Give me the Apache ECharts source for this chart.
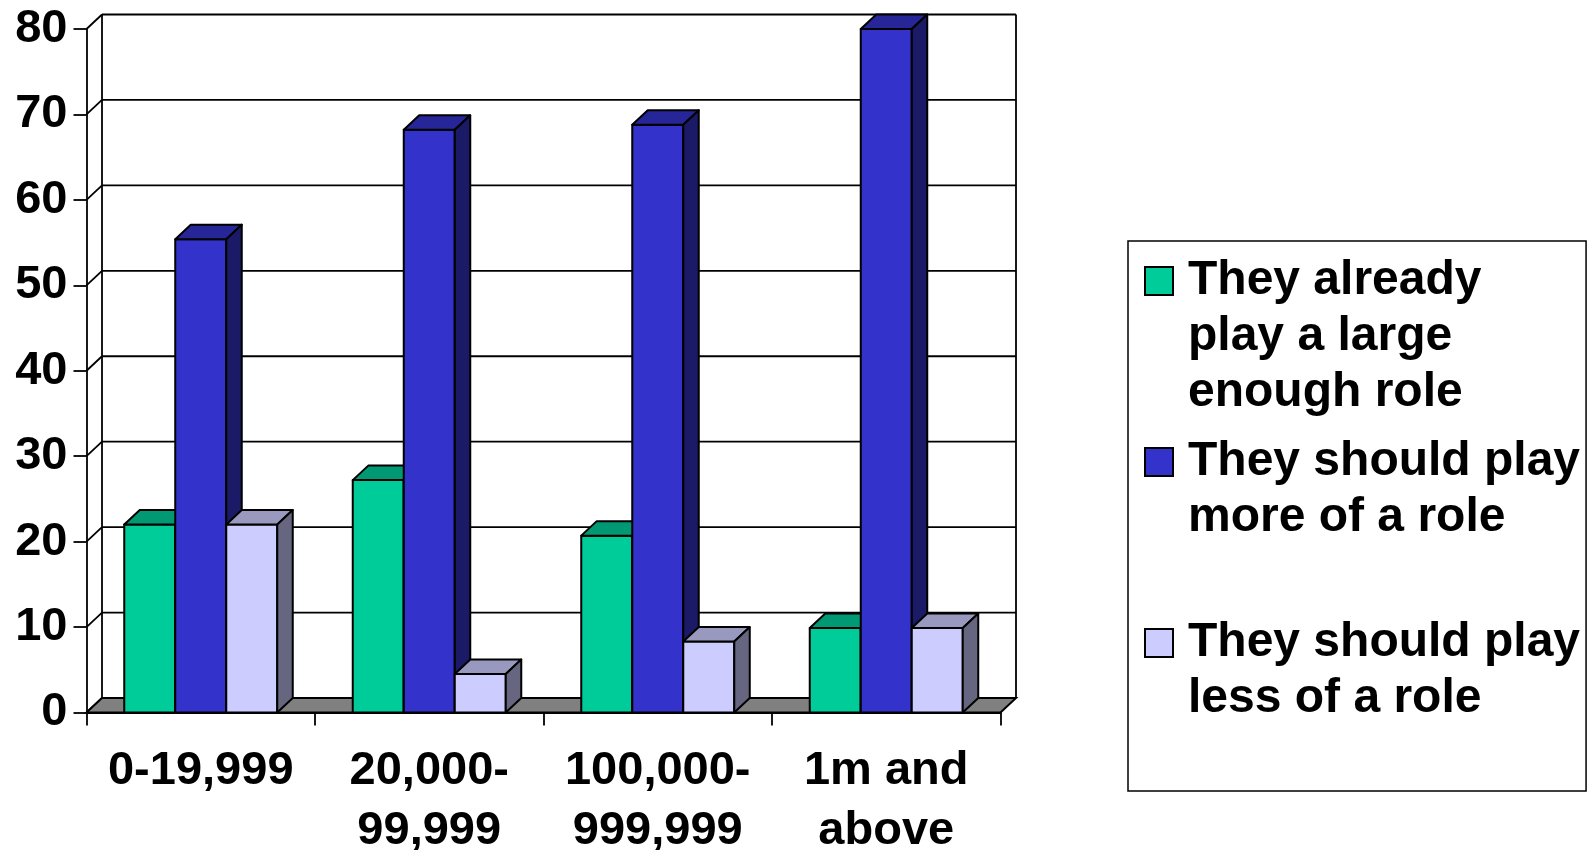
<!DOCTYPE html>
<html>
<head>
<meta charset="utf-8">
<script src="https://cdn.jsdelivr.net/npm/echarts@6/dist/echarts.min.js"></script>
<style>
html,body{margin:0;padding:0;background:#ffffff;}
#main{width:1596px;height:850px;}
</style>
</head>
<body>
<div id="main"></div>
<script>
// ---- data ----
const categories = ['0-19,999', '20,000-\n99,999', '100,000-\n999,999', '1m and\nabove'];
const seriesNames = [
  'They already\nplay a large\nenough role',
  'They should play\nmore of a role',
  'They should play\nless of a role'
];
const alreadyLarge = [22, 27.2, 20.7, 9.9];
const playMore = [55.4, 68.2, 68.8, 80];
const playLess = [22, 4.5, 8.3, 9.9];
const yMin = 0, yMax = 80, yInterval = 10;

// ---- styling ----
const FONT = "'Liberation Sans', Arial, sans-serif";
const DX = 15.5, DY = -14.5;          // 3D depth offset
const BAR_FRAC = 0.2232;             // bar width as fraction of category band
const palettes = [
  { front: '#00CC99', top: '#009973', side: '#00664D' },
  { front: '#3333CC', top: '#262699', side: '#1A1A66' },
  { front: '#CCCCFF', top: '#9999BF', side: '#666680' }
];
const seriesValues = [alreadyLarge, playMore, playLess];

function renderFrame(params, api) {
  const cs = params.coordSys;
  const x0 = cs.x, x1 = cs.x + cs.width, yt = cs.y, yb = cs.y + cs.height;
  const line = { stroke: '#000', lineWidth: 1.8 };
  const children = [];
  for (let v = yMin; v <= yMax; v += yInterval) {
    const y = api.coord([0, v])[1];
    children.push({ type: 'line', shape: { x1: x0 + DX, y1: y + DY, x2: x1 + DX, y2: y + DY }, style: line });
    children.push({ type: 'line', shape: { x1: x0, y1: y, x2: x0 + DX, y2: y + DY }, style: line });
  }
  children.push({ type: 'line', shape: { x1: x0 + DX, y1: yt + DY, x2: x0 + DX, y2: yb + DY }, style: line });
  children.push({ type: 'line', shape: { x1: x1 + DX, y1: yt + DY, x2: x1 + DX, y2: yb + DY }, style: line });
  children.push({
    type: 'polygon',
    shape: { points: [[x0, yb], [x1, yb], [x1 + DX, yb + DY], [x0 + DX, yb + DY]] },
    style: { fill: '#808080', stroke: '#000', lineWidth: 2 }
  });
  return { type: 'group', children: children };
}

function makeBarRenderer(s) {
  const pal = palettes[s];
  return function (params, api) {
    const cat = api.value(0), val = api.value(1);
    const base = api.coord([cat, 0]);
    const top = api.coord([cat, val]);
    const band = api.size([1, 0])[0];
    const w = band * BAR_FRAC;
    const x = base[0] + (s - 1) * w - w / 2;
    const ty = top[1], by = base[1];
    const st = { stroke: '#000', lineWidth: 2, lineJoin: 'round' };
    return {
      type: 'group',
      children: [
        { type: 'rect', shape: { x: x, y: ty, width: w, height: by - ty }, style: Object.assign({ fill: pal.front }, st) },
        { type: 'polygon', shape: { points: [[x, ty], [x + w, ty], [x + w + DX, ty + DY], [x + DX, ty + DY]] }, style: Object.assign({ fill: pal.top }, st) },
        { type: 'polygon', shape: { points: [[x + w, ty], [x + w + DX, ty + DY], [x + w + DX, by + DY], [x + w, by]] }, style: Object.assign({ fill: pal.side }, st) }
      ]
    };
  };
}

const chart = echarts.init(document.getElementById('main'), null, { renderer: 'canvas' });

const series = [{
  type: 'custom',
  name: 'frame',
  silent: true,
  z: 1,
  clip: false,
  renderItem: renderFrame,
  data: [[0, 0]],
  encode: { x: 0, y: 1 }
}];
seriesValues.forEach(function (vals, s) {
  series.push({
    type: 'custom',
    name: seriesNames[s],
    z: 2 + s,
    clip: false,
    itemStyle: { color: palettes[s].front },
    renderItem: makeBarRenderer(s),
    data: vals.map(function (v, i) { return [i, v]; }),
    encode: { x: 0, y: 1 }
  });
});

chart.setOption({
  animation: false,
  backgroundColor: '#ffffff',
  grid: { left: 86.5, top: 29, width: 914, height: 683.5, containLabel: false, outerBoundsMode: 'none' },
  xAxis: {
    type: 'category',
    data: categories,
    boundaryGap: true,
    axisLine: { show: true, lineStyle: { color: '#000', width: 1.8 } },
    axisTick: { show: true, length: 13, lineStyle: { color: '#000', width: 1.8 } },
    axisLabel: { interval: 0, margin: 29, color: '#000', fontSize: 47, fontWeight: 'bold', fontFamily: FONT, lineHeight: 60 },
    splitLine: { show: false }
  },
  yAxis: {
    type: 'value',
    min: yMin, max: yMax, interval: yInterval,
    axisLine: { show: true, lineStyle: { color: '#000', width: 1.8 } },
    axisTick: { show: true, length: 13, lineStyle: { color: '#000', width: 1.8 } },
    axisLabel: { margin: 19, color: '#000', fontSize: 47, fontWeight: 'bold', fontFamily: FONT },
    splitLine: { show: false }
  },
  legend: {
    data: seriesNames,
    orient: 'vertical',
    left: 1128, top: 241,
    padding: [11, 6, 7, 16],
    borderColor: '#000', borderWidth: 1.5,
    itemGap: 11,
    itemWidth: 38, itemHeight: 168,
    icon: 'path://M0,0M0,14L28,14L28,42L0,42ZM38,168',
    itemStyle: { borderColor: '#000', borderWidth: 2 },
    selectedMode: false,
    textStyle: { fontSize: 48, fontWeight: 'bold', color: '#000', lineHeight: 56, fontFamily: FONT },
    formatter: function (name) {
      const lines = name.split('\n');
      while (lines.length < 3) lines.push(' ');
      return lines.join('\n');
    }
  },
  series: series
});
</script>
</body>
</html>
